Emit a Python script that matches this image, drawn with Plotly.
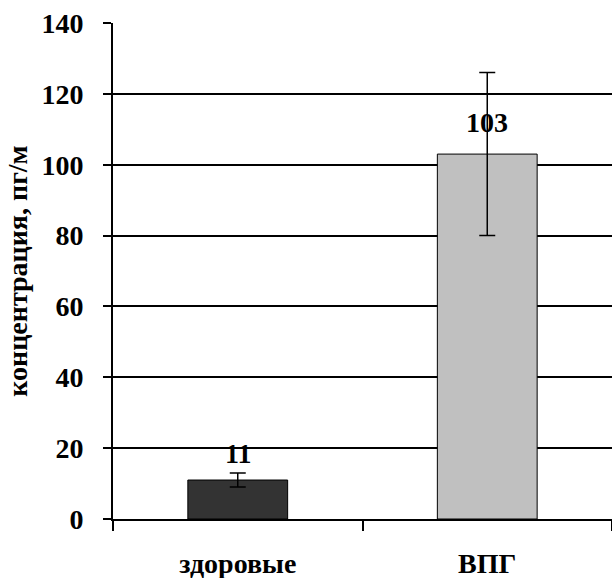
import plotly.graph_objects as go

categories = ["здоровые", "ВПГ"]
values = [11, 103]
errors = [2, 23]
colors = ["#333333", "#c0c0c0"]
y_ticks = [0, 20, 40, 60, 80, 100, 120, 140]

FONT = "Liberation Serif"
label_shift = [27, 32]

fig = go.Figure()
fig.add_trace(go.Bar(
    x=categories, y=values, width=0.4,
    marker=dict(color=colors, line=dict(color="black", width=1)),
    error_y=dict(type="data", array=errors, visible=True, color="black",
                 thickness=1.5, width=8),
))
for c, v, s in zip(categories, values, label_shift):
    fig.add_annotation(x=c, y=v, text=str(v), showarrow=False, yshift=s,
                       font=dict(family=FONT, size=28, color="black", weight="bold"))

fig.update_layout(
    width=612, height=578,
    margin=dict(l=113, r=0, t=23, b=59),
    plot_bgcolor="white", paper_bgcolor="white",
    showlegend=False,
    font=dict(family=FONT, color="black"),
)
fig.update_xaxes(
    type="category", tickson="boundaries", ticks="outside", ticklen=10,
    tickwidth=2, tickcolor="black", showline=True, linecolor="black", linewidth=2,
    showgrid=False, tickfont=dict(family=FONT, size=28, color="black", weight="bold"),
    ticklabelstandoff=18,
)
fig.update_yaxes(
    range=[0, 140], tickvals=y_ticks, ticks="outside", ticklen=8, tickwidth=2,
    tickcolor="black", showline=True, linecolor="black", linewidth=2,
    showgrid=True, gridcolor="black", gridwidth=1.5, zeroline=False,
    tickfont=dict(family=FONT, size=28, color="black", weight="bold"),
    ticklabelstandoff=14,
    title=dict(text="концентрация, пг/м",
               font=dict(family=FONT, size=28, color="black", weight="bold"),
               standoff=6),
)
fig.write_html("out.html")
